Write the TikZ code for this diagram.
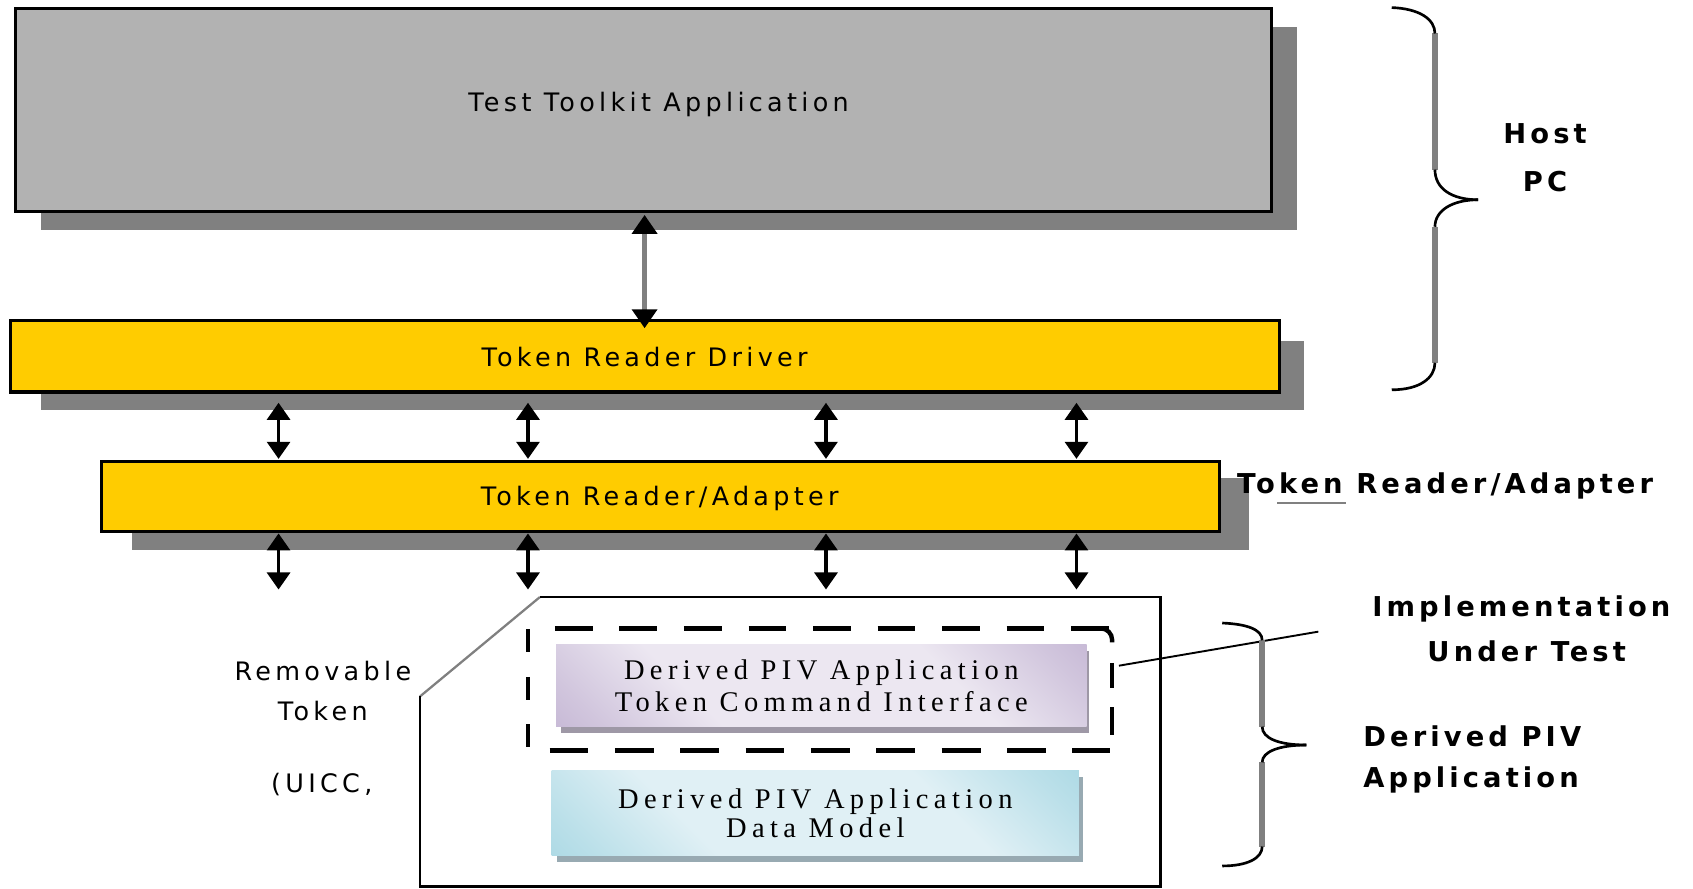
\documentclass[tikz,border=0pt]{standalone}
\usepackage{fontspec}
\usetikzlibrary{arrows.meta,calc}
\newfontfamily\pix[LetterSpace=17]{DejaVu Sans}
\newfontfamily\pixb[LetterSpace=15]{DejaVu Sans Bold}
\newfontfamily\serf[LetterSpace=19]{Liberation Serif}
\definecolor{boxgray}{HTML}{B2B2B2}
\definecolor{shgray}{HTML}{808080}
\definecolor{tokyel}{HTML}{FFCC00}
\definecolor{purpD}{HTML}{B09DC5}
\definecolor{purpL}{HTML}{ECE7F1}
\definecolor{cyanD}{HTML}{8ECCDB}
\definecolor{cyanL}{HTML}{E0F0F5}
\definecolor{purpsh}{HTML}{9E98A6}
\definecolor{cyansh}{HTML}{98AAB2}
\pgfdeclarehorizontalshading{purpshade}{100bp}{color(0bp)=(purpD); color(20bp)=(purpL!55!purpD); color(34bp)=(purpL); color(66bp)=(purpL); color(80bp)=(purpL!55!purpD); color(100bp)=(purpD)}
\pgfdeclarehorizontalshading{cyanshade}{100bp}{color(0bp)=(cyanD); color(20bp)=(cyanL!55!cyanD); color(34bp)=(cyanL); color(66bp)=(cyanL); color(80bp)=(cyanL!55!cyanD); color(100bp)=(cyanD)}
\begin{document}
\begin{tikzpicture}[x=0.01cm,y=-0.01cm,
  layer/.style={draw=black,line width=0.8pt,anchor=north west,inner sep=0pt,outer sep=0pt},
  pixtext/.style={font=\pix\fontsize{6.7}{8}\selectfont,inner sep=0pt,anchor=base},
  boldtext/.style={font=\pixb\fontsize{7.2}{8}\selectfont,inner sep=0pt,anchor=base},
  serifbox/.style={anchor=north west,inner sep=0pt,outer sep=0pt,align=center,font=\serf\fontsize{7.5}{8.5}\selectfont},
  arr/.style={{Triangle[width=6pt,length=4.5pt]}-{Triangle[width=6pt,length=4.5pt]},line width=1pt,black},
  garr/.style={{Triangle[width=6.5pt,length=5pt,color=black]}-{Triangle[width=6.5pt,length=5pt,color=black]},line width=1.4pt,draw=shgray},
  brvert/.style={draw=shgray,line width=1.5pt},
  brcurve/.style={draw=black,line width=0.7pt},
  thick dash/.style={line width=1.14pt,black}]
\useasboundingbox (0,0) rectangle (1568,823);

% ---- Test Toolkit Application
\fill[shgray] (38,25) rectangle (1201,213);
\node[layer,fill=boxgray,minimum width=11.63cm,minimum height=1.88cm] (tk) at (14,8) {};
\node[pixtext] (tktxt) at (610,103) {Test Toolkit Application};

% ---- Token Reader Driver
\fill[shgray] (38,316) rectangle (1208,380);
\node[layer,fill=tokyel,minimum width=11.74cm,minimum height=0.66cm] (drv) at (10,297) {};
\node[pixtext] (drvtxt) at (597,339) {Token Reader Driver};

% ---- Token Reader/Adapter
\fill[shgray] (122,443) rectangle (1157,509);
\node[layer,fill=tokyel,minimum width=10.35cm,minimum height=0.65cm] (adp) at (94,427) {};
\node[pixtext] (adptxt) at (611,468) {Token Reader/Adapter};

% ---- arrows
\coordinate (ta) at (597,199);
\coordinate (tb) at (597,304);
\draw[garr] (ta) -- (tb);
\foreach \i/\x in {1/258,2/489,3/765,4/997}{
  \coordinate (u\i) at (\x,373);
  \coordinate (v\i) at (\x,425);
  \draw[arr] (u\i) -- (v\i);
  \coordinate (p\i) at (\x,494);
  \coordinate (q\i) at (\x,546);
  \draw[arr] (p\i) -- (q\i);
}

% ---- removable token outline
\draw[shgray,line width=0.6pt] (389,645) -- (500,553);
\draw[black,line width=0.7pt] (500,553) -- (1075,553) -- (1075,821) -- (389,821) -- (389,645);
\node[pixtext] (rm1) at (299,630) {Removable};
\node[pixtext] (rm2) at (299,667) {Token};
\node[pixtext] (rm3) at (298,734) {(UICC,};

% ---- purple box
\fill[purpsh] (520,603) rectangle (1009,679);
\node[serifbox,shading=purpshade,shading angle=45,
      minimum width=4.91cm,minimum height=0.76cm] (tci) at (515,597)
  {Derived PIV Application\\Token Command Interface};

% ---- cyan box
\fill[cyansh] (516,720) rectangle (1003,798);
\node[serifbox,shading=cyanshade,shading angle=45,
      minimum width=4.88cm,minimum height=0.78cm,font=\serf\fontsize{7.5}{7.7}\selectfont] (dm) at (511,714)
  {Derived PIV Application\\Data Model};

% ---- dashed frame (implementation under test)
\node[anchor=north west,inner sep=0pt,outer sep=0pt,minimum width=5.41cm,minimum height=1.13cm] (iut) at (489,582) {};
\draw[thick dash,dash pattern=on 9.96pt off 7.03pt] (514,582) -- (1030,582);
\draw[thick dash,dash pattern=on 10.24pt off 6.97pt] (509,695) -- (1028,695);
\draw[thick dash,dash pattern=on 6pt off 6.5pt] (489,583) -- (489,692);
\draw[thick dash,rounded corners=3pt] (1020,582) -- (1030,582) -- (1030,595);
\draw[thick dash,dash pattern=on 6.5pt off 5.1pt on 7.4pt off 20pt] (1030,614) -- (1030,695);

% ---- leader line
\coordinate (iutlbl) at (1221,585);
\draw[black,line width=0.5pt] ($(iut.east)+(6,-22)$) -- (iutlbl);

% ---- braces
\draw[brvert] (1329,31) -- (1329,157);
\draw[brvert] (1329,210) -- (1329,336);
\draw[brcurve] (1289,7) .. controls (1315,8) and (1329,18) .. (1329,31);
\draw[brcurve] (1329,157) .. controls (1329,175) and (1345,185) .. (1369,185);
\draw[brcurve] (1369,185) .. controls (1345,185) and (1329,195) .. (1329,210);
\draw[brcurve] (1329,336) .. controls (1329,350) and (1315,361) .. (1289,361);

\draw[brvert] (1169,593) -- (1169,673);
\draw[brvert] (1169,706) -- (1169,784);
\draw[brcurve] (1132,577) .. controls (1155,578) and (1169,583) .. (1169,593);
\draw[brcurve] (1169,673) .. controls (1169,684) and (1185,690) .. (1210,690);
\draw[brcurve] (1210,690) .. controls (1185,690) and (1169,696) .. (1169,706);
\draw[brcurve] (1169,784) .. controls (1169,795) and (1155,802) .. (1132,802);

% ---- right labels
\node[boldtext] (host) at (1431,133) {Host};
\node[boldtext] (pc) at (1431,177) {PC};
\node[boldtext,anchor=base west] (tra) at (1145,457) {Token Reader/Adapter};
\draw[shgray,line width=0.6pt] (1183,466) -- (1247,466);
\node[boldtext] (imp1) at (1409,571) {Implementation};
\node[boldtext] (imp2) at (1414,613) {Under Test};
\node[boldtext,anchor=base west] (dpa1) at (1262,691) {Derived PIV};
\node[boldtext,anchor=base west] (dpa2) at (1262,729) {Application};
\end{tikzpicture}
\end{document}
